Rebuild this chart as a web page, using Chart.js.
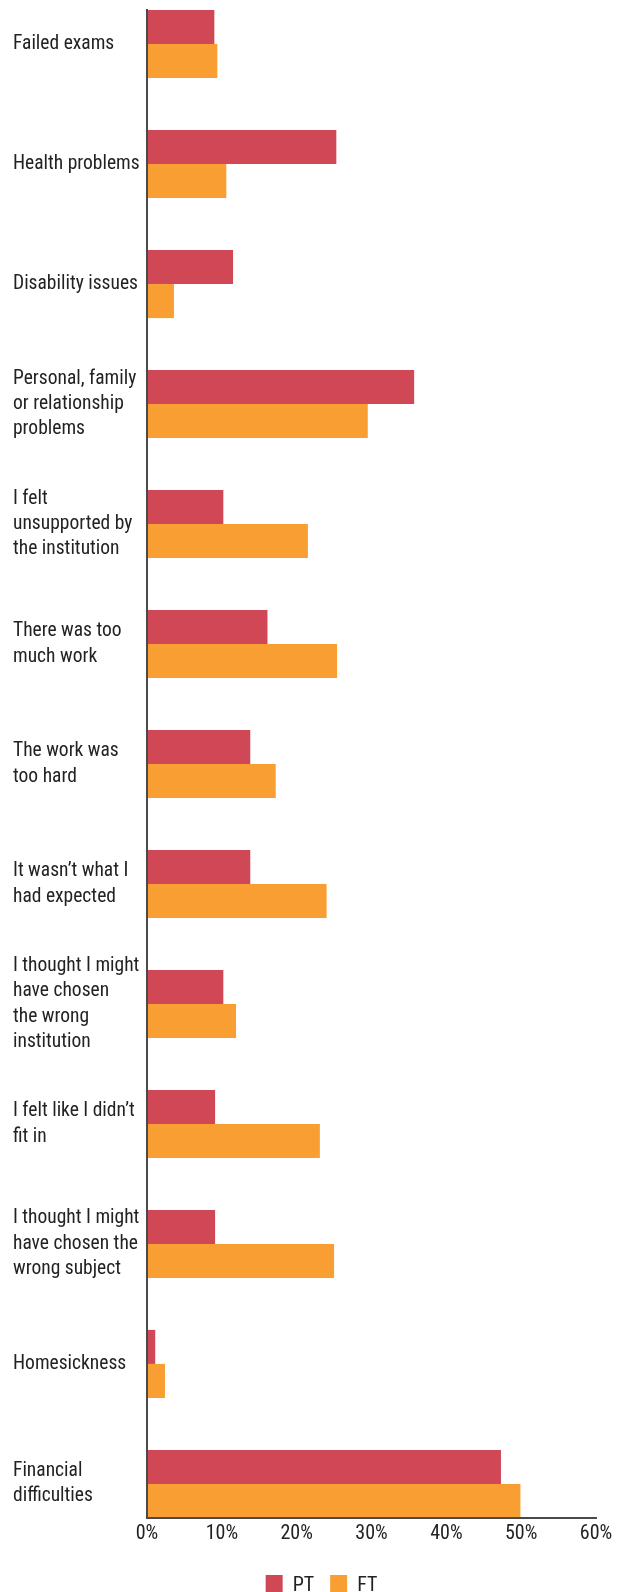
<!DOCTYPE html>
<html>
<head>
<meta charset="utf-8">
<title>Reasons for considering leaving</title>
<script src="https://cdn.jsdelivr.net/npm/chart.js@4.4.1/dist/chart.umd.min.js"></script>
<style>
  html, body { margin: 0; padding: 0; background: #ffffff; overflow: hidden; }
  #chartWrap { position: relative; width: 625px; height: 1607px; }
</style>
</head>
<body>
<div id="chartWrap"><canvas id="reasonsChart"></canvas></div>
<script>
// ==========================================
// DATA
// ==========================================

// Category labels, one array per row (each entry is a line of the label)
const categories = [
    ['Failed exams'],
    ['Health problems'],
    ['Disability issues'],
    ['Personal, family', 'or relationship', 'problems'],
    ['I felt', 'unsupported by', 'the institution'],
    ['There was too', 'much work'],
    ['The work was', 'too hard'],
    ['It wasn\u2019t what I', 'had expected'],
    ['I thought I might', 'have chosen', 'the wrong', 'institution'],
    ['I felt like I didn\u2019t', 'fit in'],
    ['I thought I might', 'have chosen the', 'wrong subject'],
    ['Homesickness'],
    ['Financial', 'difficulties']
];

const seriesNames = ['PT', 'FT'];

// Percent of respondents
const ptValues = [9.0, 25.3, 11.5, 35.7, 10.2, 16.1, 13.8, 13.8, 10.2, 9.1, 9.1, 1.1, 47.3];
const ftValues = [9.4, 10.6, 3.6, 29.5, 21.5, 25.4, 17.2, 24.0, 11.9, 23.1, 25.0, 2.4, 49.9];

const xTickValues = [0, 10, 20, 30, 40, 50, 60];

// ==========================================
// STYLE
// ==========================================

const PT_COLOR = '#D04755';
const FT_COLOR = '#F89E32';
const AXIS_COLOR = '#4a4a4a';
const TEXT_COLOR = '#222222';
const FONT_FAMILY = "'Roboto Condensed', 'Liberation Sans Narrow', 'DejaVu Sans Condensed', sans-serif";

// room above the first pair / below the last pair, in row units
const ROW_EDGE = 0.284;

// nudge the legend a little to the right of the canvas centre
const legendShift = {
    id: 'legendShift',
    afterLayout: function(chart) {
        const legend = chart.legend;
        if (!legend) return;
        legend.left += 17;
        legend.right += 17;
    }
};

// ==========================================
// CHART
// ==========================================

function toPoints(values) {
    return values.map((v, i) => ({ x: v, y: i }));
}

function initReasonsChart() {
    const ctx = document.getElementById('reasonsChart');
    if (!ctx) return;

    new Chart(ctx, {
        type: 'bar',
        data: {
            datasets: [
                {
                    label: seriesNames[0],
                    data: toPoints(ptValues),
                    backgroundColor: PT_COLOR,
                    borderWidth: 0
                },
                {
                    label: seriesNames[1],
                    data: toPoints(ftValues),
                    backgroundColor: FT_COLOR,
                    borderWidth: 0
                }
            ]
        },
        options: {
            indexAxis: 'y',
            responsive: true,
            maintainAspectRatio: false,
            animation: false,
            devicePixelRatio: 1,
            categoryPercentage: 0.5675,
            barPercentage: 1,
            layout: {
                padding: { top: 10, left: 13, right: 29, bottom: 0 }
            },
            scales: {
                y: {
                    type: 'linear',
                    reverse: true,
                    offset: false,
                    min: -ROW_EDGE,
                    max: categories.length - 1 + ROW_EDGE,
                    afterBuildTicks: function(scale) {
                        scale.ticks = categories.map((_, i) => ({ value: i }));
                    },
                    afterFit: function(scale) {
                        scale.width = 134;
                        scale.paddingTop = 0;
                        scale.paddingBottom = 0;
                    },
                    grid: { display: false, drawTicks: false },
                    border: { display: true, color: AXIS_COLOR, width: 2, z: 1 },
                    ticks: {
                        autoSkip: false,
                        crossAlign: 'far',
                        padding: 0,
                        color: TEXT_COLOR,
                        font: { family: FONT_FAMILY, size: 19.5, lineHeight: 1.3 },
                        callback: function(value) {
                            return categories[value];
                        }
                    }
                },
                x: {
                    type: 'linear',
                    min: 0,
                    max: 60,
                    afterBuildTicks: function(scale) {
                        scale.ticks = xTickValues.map(v => ({ value: v }));
                    },
                    afterFit: function(scale) {
                        // let the end labels hang past the plot edges
                        scale.paddingLeft = 0;
                        scale.paddingRight = 0;
                        scale.height = 41;
                    },
                    grid: { display: false, drawTicks: false },
                    border: { display: true, color: AXIS_COLOR, width: 2, z: 1 },
                    ticks: {
                        autoSkip: false,
                        maxRotation: 0,
                        padding: 4,
                        color: TEXT_COLOR,
                        font: { family: FONT_FAMILY, size: 20 },
                        callback: function(value) {
                            return value + '%';
                        }
                    }
                }
            },
            plugins: {
                legend: {
                    position: 'bottom',
                    labels: {
                        boxWidth: 17,
                        boxHeight: 22,
                        padding: 16,
                        color: TEXT_COLOR,
                        font: { family: FONT_FAMILY, size: 20 }
                    }
                },
                tooltip: { enabled: false }
            }
        },
        plugins: [legendShift]
    });
}

document.addEventListener('DOMContentLoaded', initReasonsChart);
</script>
</body>
</html>
